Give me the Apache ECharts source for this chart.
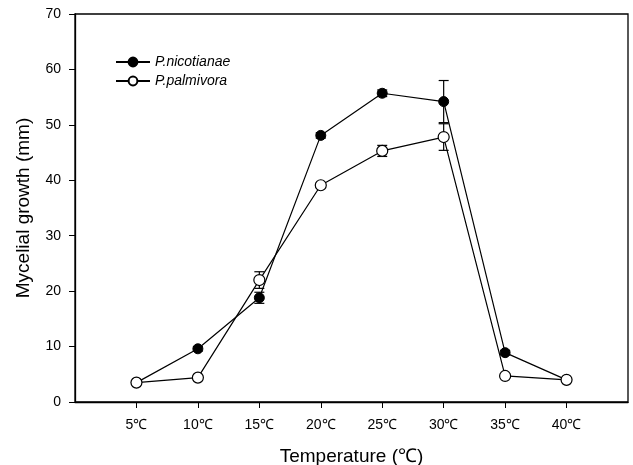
<!DOCTYPE html>
<html>
<head>
<meta charset="utf-8">
<script src="https://cdn.jsdelivr.net/npm/echarts@6/dist/echarts.min.js"></script>
<style>
html, body { margin: 0; padding: 0; background: #fff; }
#main { width: 633px; height: 465px; }
</style>
</head>
<body>
<div id="main"></div>
<script>
var temps = [5, 10, 15, 20, 25, 30, 35, 40];
var nicotianae = [3.5, 9.6, 18.8, 48.1, 55.7, 54.2, 8.9, 4.0];
var nicotianaeErr = [0.2, 0.4, 1.0, 0.5, 0.6, 3.8, 0.4, 0.2];
var palmivora = [3.5, 4.4, 22.0, 39.1, 45.3, 47.8, 4.7, 4.0];
var palmivoraErr = [0.2, 0.3, 1.5, 0.4, 1.0, 2.4, 0.4, 0.2];

var chart = echarts.init(document.getElementById('main'));

function pairs(ys) {
    return temps.map(function (t, i) { return [t, ys[i]]; });
}
function errData(ys, es) {
    return temps.map(function (t, i) { return [t, ys[i] - es[i], ys[i] + es[i]]; });
}
function errBars(params, api) {
    var lo = api.coord([api.value(0), api.value(1)]);
    var hi = api.coord([api.value(0), api.value(2)]);
    var w = 5;
    var st = { stroke: '#000', lineWidth: 1.2 };
    return {
        type: 'group',
        children: [
            { type: 'line', shape: { x1: lo[0], y1: lo[1], x2: hi[0], y2: hi[1] }, style: st },
            { type: 'line', shape: { x1: lo[0] - w, y1: lo[1], x2: lo[0] + w, y2: lo[1] }, style: st },
            { type: 'line', shape: { x1: hi[0] - w, y1: hi[1], x2: hi[0] + w, y2: hi[1] }, style: st }
        ]
    };
}

var font = 'Liberation Sans, Arial, sans-serif';

var option = {
    backgroundColor: '#fff',
    animation: false,
    textStyle: { fontFamily: font, color: '#000' },
    grid: {
        left: 75, right: 5, top: 14, bottom: 63, show: true, borderColor: '#000', borderWidth: 1.3,
        containLabel: false, outerBoundsMode: 'none'
    },
    legend: {
        left: 110, top: 50, orient: 'vertical', itemWidth: 34, itemHeight: 11, itemGap: 5,
        textStyle: { fontStyle: 'italic', fontSize: 14, fontFamily: font, color: '#000' },
        data: ['P.nicotianae', 'P.palmivora']
    },
    xAxis: {
        type: 'value', min: 0, max: 45, interval: 5,
        name: 'Temperature (℃)', nameLocation: 'middle', nameGap: 45,
        nameTextStyle: { fontSize: 19, color: '#000', fontFamily: font },
        axisLine: { lineStyle: { color: '#000', width: 1.3 } },
        axisTick: { inside: false, length: 6, lineStyle: { color: '#000' } },
        axisLabel: {
            fontSize: 14, color: '#000', margin: 16, showMinLabel: false, showMaxLabel: false,
            formatter: function (v) { return v + '℃'; }
        },
        splitLine: { show: false }
    },
    yAxis: {
        type: 'value', min: 0, max: 70, interval: 10,
        name: 'Mycelial growth (mm)', nameLocation: 'middle', nameGap: 42,
        nameTextStyle: { fontSize: 19, color: '#000', fontFamily: font },
        axisLine: { lineStyle: { color: '#000', width: 1.3 } },
        axisTick: { inside: false, length: 6, lineStyle: { color: '#000' } },
        axisLabel: { fontSize: 14, color: '#000', margin: 14 },
        splitLine: { show: false }
    },
    series: [
        {
            type: 'custom', renderItem: errBars, data: errData(nicotianae, nicotianaeErr),
            encode: { x: 0, y: [1, 2] }, z: 1, silent: true
        },
        {
            type: 'custom', renderItem: errBars, data: errData(palmivora, palmivoraErr),
            encode: { x: 0, y: [1, 2] }, z: 1, silent: true
        },
        {
            name: 'P.nicotianae', type: 'line', data: pairs(nicotianae),
            symbol: 'circle', symbolSize: 10, z: 3,
            lineStyle: { color: '#000', width: 1.2 },
            itemStyle: { color: '#000', borderColor: '#000', borderWidth: 1 }
        },
        {
            name: 'P.palmivora', type: 'line', data: pairs(palmivora),
            symbol: 'circle', symbolSize: 11, z: 4,
            lineStyle: { color: '#000', width: 1.2 },
            itemStyle: { color: '#fff', borderColor: '#000', borderWidth: 1.2 }
        }
    ]
};

chart.setOption(option);
</script>
</body>
</html>
